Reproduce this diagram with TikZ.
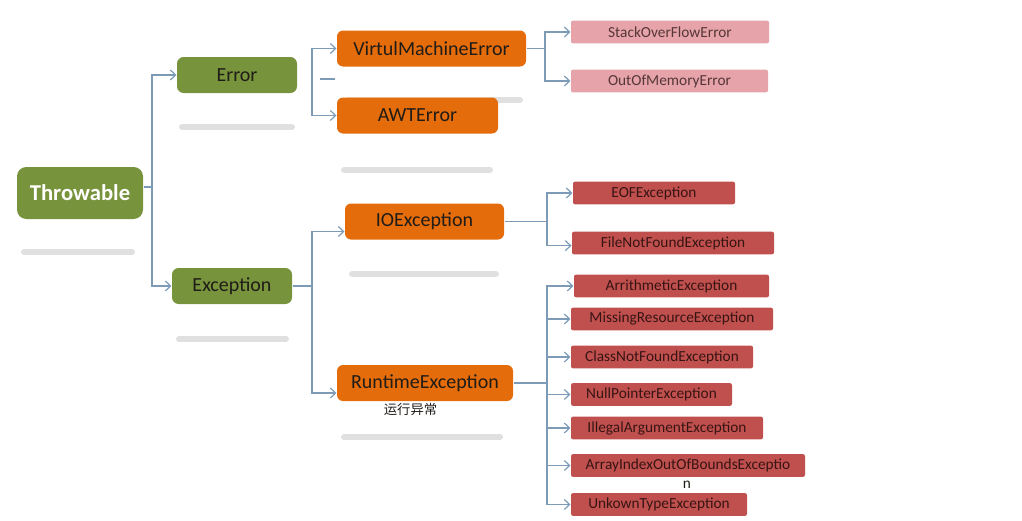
\documentclass[tikz,border=0pt]{standalone}
\usepackage{fontspec}
\setmainfont{Carlito}
\newfontfamily\cjk{Noto Sans CJK SC}
\usetikzlibrary{arrows.meta}

\definecolor{grnfill}{RGB}{119,147,60}
\definecolor{orgfill}{RGB}{228,108,10}
\definecolor{redfill}{RGB}{192,80,77}
\definecolor{pnkfill}{RGB}{230,163,170}
\definecolor{linkc}{RGB}{125,155,183}
\definecolor{darktxt}{RGB}{32,28,24}
\definecolor{redtxt}{RGB}{55,20,20}

\tikzset{every picture/.style={line width=0.75pt}}
\tikzset{
  grnbox/.style={fill=grnfill, rounded corners=5pt, inner sep=0pt, minimum height=27pt,
    text=darktxt, font=\fontsize{15}{18}\selectfont},
  orgbox/.style={fill=orgfill, rounded corners=4.5pt, inner sep=0pt, minimum height=27pt,
    text=darktxt, font=\fontsize{15}{18}\selectfont},
  redbox/.style={fill=redfill, rounded corners=1.5pt, inner sep=0pt, minimum height=17pt,
    text=redtxt, font=\fontsize{11.5}{13}\selectfont},
  pnkbox/.style={fill=pnkfill, rounded corners=1.5pt, inner sep=0pt, minimum height=17pt,
    text=redtxt!85, font=\fontsize{11.5}{13}\selectfont},
  conn/.style={draw=linkc, line width=0.9pt},
  arr/.style={conn, -{Straight Barb[length=4pt,width=7.5pt]}},
  shd/.style={draw=black!12, line width=4.5pt, line cap=round}
}

\begin{document}
\begin{tikzpicture}[x=0.75pt,y=0.75pt,yscale=-1,xscale=1]
\path[use as bounding box] (0,0) rectangle (1022,521);
%Shadow bars
\draw[shd] (24,252) -- (132,252);
\draw[shd] (182,127) -- (292,127);
\draw[shd] (179,339) -- (286,339);
\draw[shd] (348,100) -- (520,100);
\draw[shd] (344,170) -- (490,170);
\draw[shd] (352,274) -- (496,274);
\draw[shd] (344,437) -- (500,437);

%Root and first level
\node[grnbox, minimum width=94.5pt, minimum height=39pt, rounded corners=7pt,
  text=white, font=\fontsize{17}{20}\selectfont\bfseries] (thr) at (80,193) {Throwable};
\node[grnbox, minimum width=90pt] (err) at (237,75) {Error};
\node[grnbox, minimum width=90pt] (exc) at (232,286) {Exception};

%Second level
\node[orgbox, minimum width=141.75pt] (vme) at (431.5,48.5) {VirtulMachineError};
\node[orgbox, minimum width=120.75pt] (awt) at (417.5,115.5) {AWTError};
\node[orgbox, minimum width=119.25pt] (ioe) at (424.5,221.5) {IOException};
\node[orgbox, minimum width=132pt] (rte) at (425,383) {RuntimeException};
% Text Node
\node[inner sep=0pt, text=darktxt, font=\cjk\fontsize{10}{12}\selectfont] (rtelbl) at (410.5,409.5) {运行异常};

%Third level
\node[pnkbox, minimum width=148.5pt] (sof) at (670,32) {StackOverFlowError};
\node[pnkbox, minimum width=147.75pt] (oom) at (669.5,81) {OutOfMemoryError};
\node[redbox, minimum width=121.5pt] (eof) at (654,193) {EOFException};
\node[redbox, minimum width=151.5pt] (fnf) at (673,243) {FileNotFoundException};
\node[redbox, minimum width=146.25pt] (ari) at (671.5,286) {ArrithmeticException};
\node[redbox, minimum width=151.5pt] (mis) at (672,319) {MissingResourceException};
\node[redbox, minimum width=136.5pt] (cnf) at (662,357) {ClassNotFoundException};
\node[redbox, minimum width=120.75pt] (npe) at (651.5,394.5) {NullPointerException};
\node[redbox, minimum width=144pt] (iae) at (667,428) {IllegalArgumentException};
\node[redbox, minimum width=175.5pt] (aio) at (688,465.5) {ArrayIndexOutOfBoundsExceptio};
% Text Node
\node[inner sep=0pt, text=darktxt, font=\fontsize{11.5}{13}\selectfont] (aiorest) at (687,485) {n};
\node[redbox, minimum width=132pt] (ute) at (659,504.5) {UnkownTypeException};

%Trunk points
\coordinate (t0) at (152,187);
\coordinate (e0) at (312,79);
\coordinate (x0) at (312,286);
\coordinate (v0) at (545,48.5);
\coordinate (i0) at (547,221.5);
\coordinate (r0) at (547,383);
\coordinate (d0) at (320,79);
\coordinate (d1) at (335,79);

%Connectors
\draw[conn] ([yshift=-4.5pt]thr.east) -- (t0);
\draw[arr] (t0) |- (err.west);
\draw[arr] (t0) |- (exc.west);

\draw[arr] (e0) |- (vme.west);
\draw[arr] (e0) |- (awt.west);
\draw[conn] (d0) -- (d1);

\draw[conn] (exc.east) -- (x0);
\draw[arr] (x0) |- ([yshift=7.5pt]ioe.west);
\draw[arr] (x0) |- ([yshift=7.5pt]rte.west);

\draw[conn] (vme.east) -- (v0);
\draw[arr] (v0) |- (sof.west);
\draw[arr] (v0) |- (oom.west);

\draw[conn] (ioe.east) -- (i0);
\draw[arr] (i0) |- (eof.west);
\draw[arr] (i0) |- ([yshift=2pt]fnf.west);

\draw[conn] (rte.east) -- (r0);
\foreach \n in {ari,mis,cnf,npe,iae,aio,ute}
  \draw[arr] (r0) |- (\n.west);
\end{tikzpicture}
\end{document}
